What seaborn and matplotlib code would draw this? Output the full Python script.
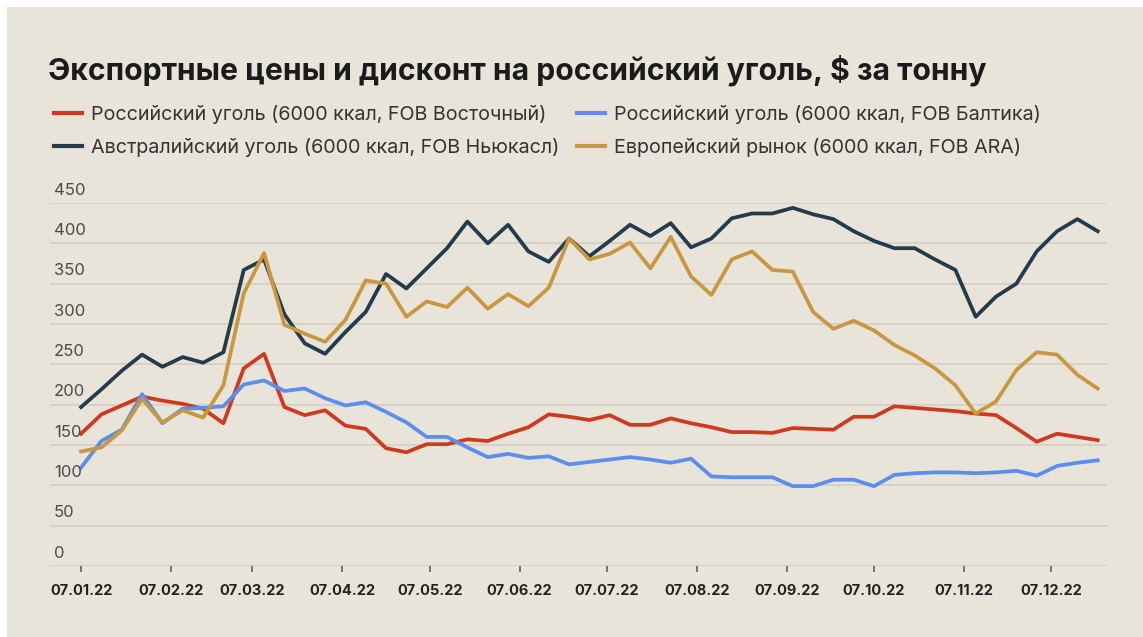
import matplotlib
matplotlib.use("Agg")
import matplotlib.pyplot as plt
import matplotlib.dates as mdates
from matplotlib.patches import Rectangle
import pandas as pd
import seaborn as sns

# weekly points, 07.01.22 .. 23.12.22
dates = pd.date_range("2022-01-07", periods=51, freq="7D")

ru_east = [164, 188, 199, 210, 205, 201, 195, 177, 245, 263, 197, 187, 193, 174, 170, 146, 141,
           151, 151, 157, 155, 164, 172, 188, 185, 181, 187, 175, 175, 183, 177, 172, 166, 166,
           165, 171, 170, 169, 185, 185, 198, 196, 194, 192, 189, 187, 171, 154, 164, 160, 156]
ru_baltic = [122, 155, 169, 213, 177, 195, 196, 198, 225, 230, 217, 220, 208, 199, 203, 191, 178,
             160, 160, 147, 135, 139, 134, 136, 126, 129, 132, 135, 132, 128, 133, 111, 110, 110,
             110, 99, 99, 107, 107, 99, 113, 115, 116, 116, 115, 116, 118, 112, 124, 128, 131]
au_newc = [197, 219, 242, 262, 247, 259, 252, 265, 367, 380, 312, 276, 263, 290, 315, 362, 344,
           369, 394, 427, 400, 423, 390, 377, 406, 384, 403, 423, 409, 425, 395, 406, 431, 437,
           437, 444, 436, 430, 415, 403, 394, 394, 380, 367, 309, 334, 350, 390, 415, 430, 415]
eu_ara = [142, 147, 168, 207, 178, 193, 184, 224, 338, 388, 299, 288, 278, 305, 354, 350, 309,
          328, 321, 345, 319, 337, 322, 345, 406, 380, 387, 401, 369, 408, 359, 336, 380, 390,
          367, 365, 315, 294, 304, 292, 274, 261, 245, 224, 189, 204, 243, 265, 262, 237, 220]

series_names = [
    "Российский уголь (6000 ккал, FOB Восточный)",
    "Австралийский уголь (6000 ккал, FOB Ньюкасл)",
    "Российский уголь (6000 ккал, FOB Балтика)",
    "Европейский рынок (6000 ккал, FOB ARA)",
]
colors = ["#cf3a1e", "#233b4b", "#5b8eee", "#c9973f"]
y_ticks = [0, 50, 100, 150, 200, 250, 300, 350, 400, 450]
x_ticks = pd.date_range("2022-01-01", periods=12, freq="MS") + pd.Timedelta(days=6)

df = pd.concat([
    pd.DataFrame({"date": dates, "price": vals, "series": name})
    for name, vals in zip(series_names, [ru_east, au_newc, ru_baltic, eu_ara])
])

bg = "#e8e4da"
W, H = 1143, 637
fig = plt.figure(figsize=(W / 100, H / 100), dpi=100)
fig.patch.set_facecolor("white")
fig.patches.append(Rectangle((7 / W, 0), 1, (H - 7) / H, transform=fig.transFigure,
                             facecolor=bg, edgecolor="none", zorder=-10))
plt.rcParams["font.family"] = ["Inter", "DejaVu Sans"]

ax = fig.add_axes([50 / W, (H - 566) / H, (1107 - 50) / W, (566 - 203) / H])
ax.set_facecolor(bg)

sns.lineplot(data=df, x="date", y="price", hue="series", hue_order=series_names,
             palette=colors, linewidth=2.7, ax=ax)

# axes
jan7 = mdates.date2num(pd.Timestamp("2022-01-07"))
ax.set_xlim(jan7 - 10.7, jan7 + 353.2)
ax.set_ylim(0, 450)
for s in ax.spines.values():
    s.set_visible(False)
ax.set_yticks(y_ticks)
ax.set_yticklabels([])
ax.tick_params(axis="y", length=0)
ax.grid(axis="y", color="#d7d2c8", linewidth=1.4)
ax.grid(axis="x", visible=False)
ax.set_axisbelow(True)
for v in y_ticks:
    ax.annotate(str(v), xy=(0, v), xycoords=("axes fraction", "data"),
                xytext=(3, 6), textcoords="offset points",
                ha="left", va="baseline", fontsize=12, color="#4a4a4a")

ax.set_xticks(x_ticks)
ax.set_xticklabels([d.strftime("%d.%m.%y") for d in x_ticks],
                   fontsize=10.5, fontweight="bold", color="#222222")
ax.tick_params(axis="x", length=4, width=1.1, color="#555555", pad=9)
ax.set_xlabel("")
ax.set_ylabel("")

# legend on top, two rows
handles, labels = ax.get_legend_handles_labels()
ax.get_legend().remove()
leg = fig.legend(handles, labels, ncol=2, loc="upper left",
                 bbox_to_anchor=(46 / W, 1 - 97 / H), frameon=False,
                 fontsize=14.2, handlelength=1.45, handletextpad=0.45,
                 columnspacing=0.85, labelspacing=0.72, borderaxespad=0)
for t in leg.get_texts():
    t.set_color("#333333")
for ln in leg.get_lines():
    ln.set_linewidth(3)

fig.text(48 / W, 1 - 80 / H, "Экспортные цены и дисконт на российский уголь, $ за тонну",
         fontsize=21.7, fontweight="bold", color="#1b1b1b", va="baseline", ha="left")

fig.savefig("out.png", dpi=100, facecolor=fig.get_facecolor())
